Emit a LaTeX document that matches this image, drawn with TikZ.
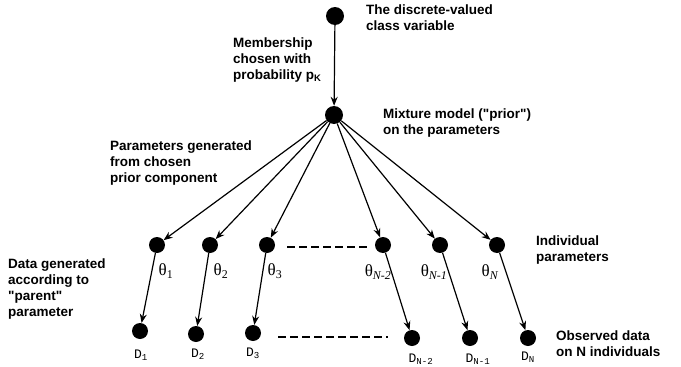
\documentclass[tikz,border=0pt]{standalone}
\usepackage{fontspec}
\setmainfont{Liberation Sans}[Ligatures=TeXOff]
\newfontfamily\dfont{Liberation Mono}
\newfontfamily\tfont{Liberation Serif}
\usetikzlibrary{positioning,arrows.meta}

\begin{document}
\begin{tikzpicture}[x=1pt, y=-1pt,
  dot/.style={circle, fill=black, inner sep=0pt, minimum size=16pt},
  lbl/.style={anchor=north west, align=left, font=\bfseries\fontsize{13.5}{15.8}\selectfont, inner sep=0pt},
  tlbl/.style={font=\tfont\fontsize{17}{18}\selectfont, inner sep=0pt},
  dlbl/.style={font=\dfont\fontsize{13}{14}\selectfont, inner sep=0pt},
  arr/.style={-{Stealth[length=9pt, width=7pt]}, line width=1.2pt},
  gap/.style={dash pattern=on 8pt off 4pt, line width=1.3pt},
]
  \useasboundingbox (0,0) rectangle (681,367);

  % class variable and prior
  \node[dot, minimum size=18pt] (cls) at (335,16) {};
  \node[dot, minimum size=18pt] (mix) at (334,115) {};

  % individual parameters
  \node[dot] (t1)  at (157,245) {};
  \node[dot] (t2)  at (210,245) {};
  \node[dot] (t3)  at (267,245) {};
  \node[dot] (tn2) at (383,245) {};
  \node[dot] (tn1) at (440,245) {};
  \node[dot] (tn)  at (497,245) {};

  % observed data
  \node[dot] (d1)  at (140,331) {};
  \node[dot] (d2)  at (196,334) {};
  \node[dot] (d3)  at (253,333) {};
  \node[dot] (dn2) at (412,338) {};
  \node[dot] (dn1) at (470,338) {};
  \node[dot] (dn)  at (528,338) {};

  % edges
  \draw[arr] (cls) -- (mix);
  \foreach \t in {t1,t2,t3,tn2,tn1,tn}
    \draw[arr] (mix) -- (\t);
  \draw[arr] (t1) -- (d1);
  \draw[arr] (t2) -- (d2);
  \draw[arr] (t3) -- (d3);
  \draw[arr] (tn2) -- (dn2);
  \draw[arr] (tn1) -- (dn1);
  \draw[arr] (tn) -- (dn);

  % gaps in the rows
  \coordinate (ga) at (287,247);
  \coordinate (gb) at (367,247);
  \coordinate (gc) at (278,337);
  \coordinate (gd) at (388,337);
  \draw[gap] (ga) -- (gb);
  \draw[gap] (gc) -- (gd);

  % theta labels
  \node[tlbl] (lt1)  at (166,271) {θ\textsubscript{1}};
  \node[tlbl] (lt2)  at (221,271) {θ\textsubscript{2}};
  \node[tlbl] (lt3)  at (275,271) {θ\textsubscript{3}};
  \node[tlbl] (ltn2) at (378,272) {θ\textsubscript{\itshape N-2}};
  \node[tlbl] (ltn1) at (434,272) {θ\textsubscript{\itshape N-1}};
  \node[tlbl] (ltn)  at (490,272) {θ\textsubscript{\itshape N}};

  % data labels
  \node[dlbl] (ld1)  at (141,355) {D\textsubscript{1}};
  \node[dlbl] (ld2)  at (198,354) {D\textsubscript{2}};
  \node[dlbl] (ld3)  at (253,353) {D\textsubscript{3}};
  \node[dlbl] (ldn2) at (421,359) {D\textsubscript{N-2}};
  \node[dlbl] (ldn1) at (478,359) {D\textsubscript{N-1}};
  \node[dlbl] (ldn)  at (528,357) {D\textsubscript{N}};

  % descriptions
  \node[lbl] (dcls) at (366,5) {The discrete-valued\\class variable};
  \node[lbl] (dmem) at (233,38) {Membership\\chosen with\\probability p\textsubscript{K}};
  \node[lbl] (dmix) at (383,109) {Mixture model ("prior")\\on the parameters};
  \node[lbl] (dpar) at (110,141) {Parameters generated\\from chosen\\prior component};
  \node[lbl] (ddat) at (8,259) {Data generated\\according to\\"parent"\\parameter};
  \node[lbl] (dind) at (536,236) {Individual\\parameters};
  \node[lbl] (dobs) at (556,331) {Observed data\\on N individuals};
\end{tikzpicture}
\end{document}
